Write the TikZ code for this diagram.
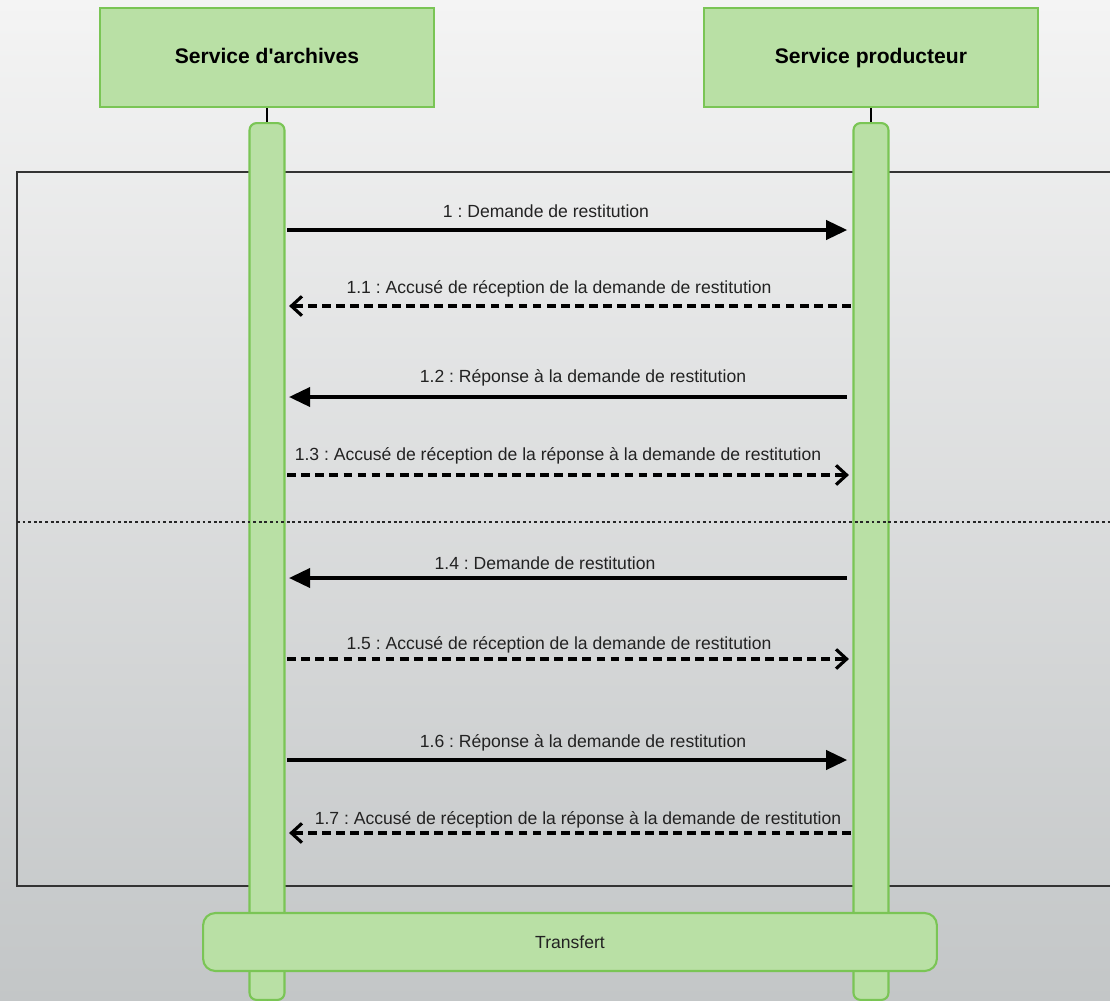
\documentclass[tikz,border=0pt]{standalone}
\usepackage{fontspec}
\setmainfont{Liberation Sans}
\usepackage{xcolor}
\usepackage{tikz}
\usetikzlibrary{positioning,calc,arrows.meta}
\frenchspacing
\definecolor{lifeGreen}{HTML}{B9E0A5}
\definecolor{edgeGreen}{HTML}{7AC555}
\definecolor{bgTop}{HTML}{F4F4F4}
\definecolor{bgBottom}{HTML}{C3C6C7}
\definecolor{labelGray}{HTML}{222222}
\tikzset{
  lifeBox/.style={
    rectangle,
    draw=edgeGreen,
    fill=lifeGreen,
    line width=1.2pt,
    minimum width=6.68cm,
    minimum height=1.98cm,
    text height=1.6ex,
    text depth=0.3ex,
    font=\fontsize{12}{14}\selectfont\bfseries,
    align=center
  },
  activationBar/.style={
    rectangle,
    rounded corners=4pt,
    draw=edgeGreen,
    fill=lifeGreen,
    line width=1.2pt,
    minimum width=0.7cm,
    minimum height=17.54cm,
    inner sep=0pt
  },
  transferBox/.style={
    rectangle,
    rounded corners=7pt,
    draw=edgeGreen,
    fill=lifeGreen,
    line width=1.2pt,
    minimum width=14.68cm,
    minimum height=1.16cm,
    font=\fontsize{10}{12}\selectfont,
    text=labelGray
  },
  msgLabel/.style={
    font=\fontsize{10}{12}\selectfont,
    text=labelGray,
    inner sep=1pt
  },
  syncMsg/.style={
    -{Triangle[length=12pt,width=11pt]},
    line width=1.8pt
  },
  replyMsg/.style={
    -{Straight Barb[length=6pt,width=11pt]},
    line width=1.8pt,
    dash pattern=on 5pt off 3pt
  },
  lifeLine/.style={
    line width=1.2pt
  },
  frameLine/.style={
    draw=black!80,
    line width=0.7pt
  }
}
\begin{document}
\begin{tikzpicture}[x=0.02cm,y=-0.02cm]
        \shade[top color=bgTop, bottom color=bgBottom] (0,0) rectangle (1110,1001);
        \useasboundingbox (0,0) rectangle (1110,1001);

        \draw[frameLine] (1110,172) -| (17,886) -- (1110,886);

        \node[lifeBox] (archive) at (267,57.5) {Service d\textquotesingle archives};
        \node[lifeBox, right=5.36cm of archive] (producer) {Service producteur};

        \node[activationBar, below=0.28cm of archive] (archiveBar) {};
        \node[activationBar, below=0.28cm of producer] (producerBar) {};

        \draw[lifeLine] (archive.south) -- (archiveBar.north);
        \draw[lifeLine] (producer.south) -- (producerBar.north);
        \draw[lifeLine] (archiveBar.south) -- ++(0,6);
        \draw[lifeLine] (producerBar.south) -- ++(0,6);

        \draw[black!85, line width=0.7pt, dash pattern=on 1.6pt off 1.6pt] (17,522) -- (1110,522);

        \draw[syncMsg, shorten <=1pt, shorten >=3pt] (archiveBar.east |- 0,230) -- (producerBar.west |- 0,230);
        \node[msgLabel] (m1) at (546,211) {1 : Demande de restitution};

        \draw[replyMsg, shorten <=1pt, shorten >=2pt] (producerBar.west |- 0,306) -- (archiveBar.east |- 0,306);
        \node[msgLabel] (m11) at (559,289) {1.1 : Accusé de réception de la demande de restitution};

        \draw[syncMsg, shorten <=3pt, shorten >=2pt] (producerBar.west |- 0,397) -- (archiveBar.east |- 0,397);
        \node[msgLabel] (m12) at (583,378) {1.2 : Réponse à la demande de restitution};

        \draw[replyMsg, shorten <=1pt, shorten >=2pt] (archiveBar.east |- 0,475) -- (producerBar.west |- 0,475);
        \node[msgLabel] (m13) at (558,456) {1.3 : Accusé de réception de la réponse à la demande de restitution};

        \draw[syncMsg, shorten <=3pt, shorten >=2pt] (producerBar.west |- 0,578) -- (archiveBar.east |- 0,578);
        \node[msgLabel] (m14) at (545,563) {1.4 : Demande de restitution};

        \draw[replyMsg, shorten <=1pt, shorten >=2pt] (archiveBar.east |- 0,659) -- (producerBar.west |- 0,659);
        \node[msgLabel] (m15) at (559,645) {1.5 : Accusé de réception de la demande de restitution};

        \draw[syncMsg, shorten <=1pt, shorten >=3pt] (archiveBar.east |- 0,760) -- (producerBar.west |- 0,760);
        \node[msgLabel] (m16) at (583,743) {1.6 : Réponse à la demande de restitution};

        \draw[replyMsg, shorten <=1pt, shorten >=2pt] (producerBar.west |- 0,833) -- (archiveBar.east |- 0,833);
        \node[msgLabel] (m17) at (578,820) {1.7 : Accusé de réception de la réponse à la demande de restitution};

        \node[transferBox] (transfer) at (570,942) {Transfert};
    \end{tikzpicture}
\end{document}
